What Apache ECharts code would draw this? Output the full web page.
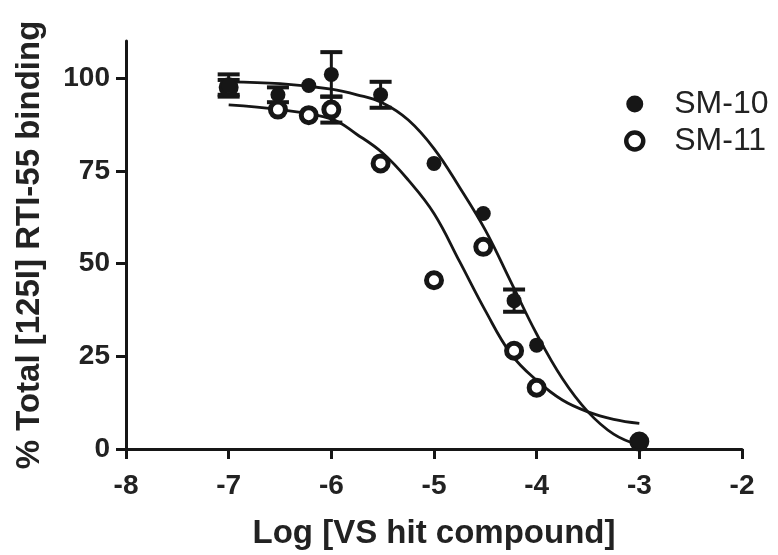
<!doctype html>
<html>
    <head>
        <meta charset="utf-8">
        <title>RTI-55 binding</title>
        <style>
            html, body { margin: 0; padding: 0; background: #fff; }
            #main { width: 778px; height: 555px; }
        </style>
    </head>
    <body>
        <div id="main"></div>
        <script src="https://cdn.jsdelivr.net/npm/echarts@6/dist/echarts.min.js"></script>
        <script>
            // measured doses (log M) and mean / SD of each compound
            var doses = [-7, -6.52, -6.22, -6, -5.52, -5, -4.52, -4.22, -4, -3];
            var sm10Mean = [98, 95.5, 98, 101, 95.5, 77, 63.5, 40, 28, 2];
            var sm10Sd = [3, 2, 0, 6, 3.5, 0, 0, 3, 0, 0];
            var sm11Mean = [97.5, 91.5, 90, 91.5, 77, 45.5, 54.5, 26.5, 16.5, 2];
            var sm11Sd = [2, 0, 0, 3.5, 0, 0, 0, 0, 0, 0];

            // fitted curves
            var fitX = [-7, -6.5, -6, -5.75, -5.5, -5.25, -5, -4.75, -4.5, -4.25, -4, -3.75, -3.5, -3.25, -3];
            var sm10Fit = [99, 98.5, 97, 95.5, 93.3, 88.7, 81, 70.5, 59, 45, 31, 19, 10, 4, 1];
            var sm11Fit = [92.8, 91.5, 89, 84.8, 79.8, 72.5, 63.5, 50.5, 37.3, 25.6, 18.5, 13.2, 10, 8, 6.9];

            var yTicks = [0, 25, 50, 75, 100];

            var ink = '#161616';
            var font = "'Liberation Sans', Arial, sans-serif";

            function pairs(xs, ys) {
                return xs.map(function (x, i) { return [x, ys[i]]; });
            }
            function bars(xs, mean, sd) {
                var out = [];
                xs.forEach(function (x, i) {
                    if (sd[i] > 0) {
                        out.push([x, mean[i] - sd[i], mean[i] + sd[i]]);
                    }
                });
                return out;
            }

            function renderBar(params, api) {
                var x = api.value(0);
                var lo = api.coord([x, api.value(1)]);
                var hi = api.coord([x, api.value(2)]);
                var hw = 11;
                var s = { stroke: ink, lineWidth: 3 };
                var c = { stroke: ink, lineWidth: 4 };
                return {
                    type: 'group',
                    children: [
                        { type: 'line', shape: { x1: lo[0], y1: lo[1], x2: hi[0], y2: hi[1] }, style: s },
                        { type: 'line', shape: { x1: hi[0] - hw, y1: hi[1], x2: hi[0] + hw, y2: hi[1] }, style: c },
                        { type: 'line', shape: { x1: lo[0] - hw, y1: lo[1], x2: lo[0] + hw, y2: lo[1] }, style: c }
                    ]
                };
            }

            var chart = echarts.init(document.getElementById('main'));

            chart.setOption({
                animation: false,
                backgroundColor: '#fff',
                textStyle: { fontFamily: font },
                grid: { left: 126, right: 36, top: 41, bottom: 100 },
                legend: {
                    orient: 'vertical',
                    left: 624,
                    top: 88,
                    padding: 0,
                    itemGap: 5,
                    itemWidth: 17,
                    itemHeight: 17,
                    data: [
                        { name: 'SM-10' },
                        { name: 'SM-11', itemStyle: { borderWidth: 4.5 } }
                    ],
                    textStyle: {
                        fontFamily: font,
                        fontSize: 32,
                        lineHeight: 32,
                        color: '#222',
                        padding: [0, 0, 0, 26]
                    }
                },
                xAxis: {
                    type: 'value',
                    min: -8,
                    max: -2,
                    interval: 1,
                    name: 'Log [VS hit compound]',
                    nameLocation: 'middle',
                    nameGap: 68,
                    nameTextStyle: { fontFamily: font, fontSize: 33, fontWeight: 'bold', color: '#222' },
                    axisLine: { lineStyle: { color: ink, width: 3 } },
                    axisTick: { length: 10, lineStyle: { color: ink, width: 3 } },
                    axisLabel: { fontFamily: font, fontSize: 28, fontWeight: 'bold', color: '#222', margin: 23 },
                    splitLine: { show: false }
                },
                yAxis: {
                    type: 'value',
                    min: 0,
                    max: 110,
                    interval: 25,
                    name: '% Total [125I] RTI-55 binding',
                    nameLocation: 'middle',
                    nameGap: 80,
                    nameTextStyle: { fontFamily: font, fontSize: 33, fontWeight: 'bold', color: '#222' },
                    axisLine: { lineStyle: { color: ink, width: 3 } },
                    axisTick: { length: 10, customValues: yTicks, lineStyle: { color: ink, width: 3 } },
                    axisLabel: { fontFamily: font, fontSize: 28, fontWeight: 'bold', color: '#222', margin: 16, customValues: yTicks },
                    splitLine: { show: false }
                },
                series: [
                    {
                        name: 'SM-10 fit',
                        type: 'line',
                        data: pairs(fitX, sm10Fit),
                        smooth: 0.4,
                        showSymbol: false,
                        lineStyle: { color: ink, width: 2.8 },
                        z: 1
                    },
                    {
                        name: 'SM-11 fit',
                        type: 'line',
                        data: pairs(fitX, sm11Fit),
                        smooth: 0.4,
                        showSymbol: false,
                        lineStyle: { color: ink, width: 2.8 },
                        z: 1
                    },
                    {
                        name: 'SM-10 SD',
                        type: 'custom',
                        renderItem: renderBar,
                        data: bars(doses, sm10Mean, sm10Sd),
                        z: 2
                    },
                    {
                        name: 'SM-11 SD',
                        type: 'custom',
                        renderItem: renderBar,
                        data: bars(doses, sm11Mean, sm11Sd),
                        z: 2
                    },
                    {
                        name: 'SM-11',
                        type: 'scatter',
                        data: pairs(doses, sm11Mean),
                        symbol: 'circle',
                        symbolSize: 15,
                        itemStyle: { color: '#fff', borderColor: ink, borderWidth: 5, opacity: 1 },
                        z: 3
                    },
                    {
                        name: 'SM-10',
                        type: 'scatter',
                        data: pairs(doses, sm10Mean),
                        symbol: 'circle',
                        symbolSize: 15,
                        itemStyle: { color: ink, opacity: 1 },
                        z: 4
                    }
                ]
            });

            window.addEventListener('resize', function () {
                chart.resize();
            });
        </script>
    </body>
</html>
